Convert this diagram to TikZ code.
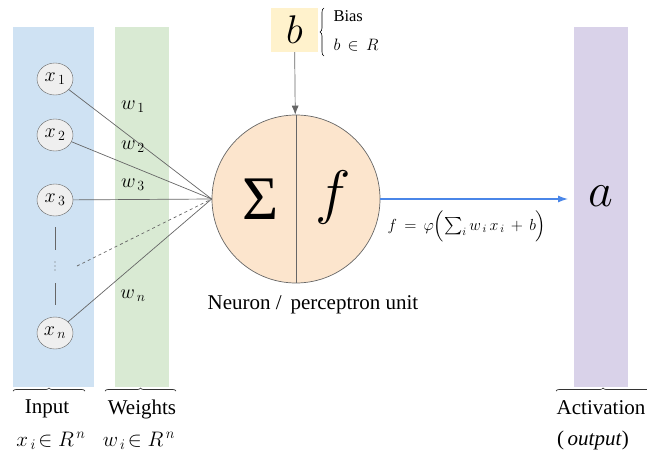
\RequirePackage{fix-cm}
\documentclass[tikz,border=0pt]{standalone}
\usepackage{exscale}
\usepackage{fontspec}
\setmainfont{Liberation Serif}
\usetikzlibrary{arrows.meta,decorations.pathreplacing,shapes.geometric}

\definecolor{inblue}{HTML}{CFE2F3}
\definecolor{wgreen}{HTML}{D9EAD3}
\definecolor{actpurple}{HTML}{D9D2E9}
\definecolor{neuronfill}{HTML}{FCE5CD}
\definecolor{biasfill}{HTML}{FFF2CC}
\definecolor{nodegray}{HTML}{EFEFEF}
\definecolor{edgegray}{HTML}{666666}
\definecolor{outblue}{HTML}{4A86E8}

\newcommand{\fs}[1]{\fontsize{#1}{#1}\selectfont}

\begin{document}
\begin{tikzpicture}[x=1pt,y=-1pt,
  inp/.style={ellipse,draw=edgegray,fill=nodegray,minimum width=36pt,minimum height=32pt,inner sep=0pt,font=\fs{20}},
  wlab/.style={font=\fs{20}},
  lab/.style={font=\fs{21}},
  wire/.style={draw=edgegray,line width=0.7pt},
  labbrace/.style={decorate,decoration={brace,amplitude=3pt},draw=black!80,line width=0.7pt}]
  \useasboundingbox (0,0) rectangle (647,463);
  % the three columns
  \fill[inblue] (13,27) rectangle (94,387);
  \fill[wgreen] (115,27) rectangle (169,387);
  \fill[actpurple] (574,27) rectangle (628,387);
  % bias on top
  \node[fill=biasfill,minimum width=47pt,minimum height=44pt,inner sep=0pt,font=\fs{40}] (bias) at (294.5,30) {$b$};
  \draw[decorate,decoration={brace,amplitude=4pt},line width=0.6pt] (324,56) -- (324,8);
  \node[anchor=west,font=\fs{16.5}] (biasname) at (330,16) {Bias};
  \node[anchor=west,font=\fs{16.5}] (biasset) at (330,45) {$b\,\in\,R$};
  % neuron
  \node[circle,draw=edgegray,fill=neuronfill,minimum size=168pt,line width=0.7pt] (neuron) at (296,199) {};
  \draw[wire] (neuron.north) -- (neuron.south);
  \node[font=\fs{62}] (sigma) at (261,199) {Σ};
  \node[font=\fs{60}] (func) at (333,197) {$f$};
  \node[lab] (neuronname) at (313,305) {Neuron /\, perceptron unit};
  \draw[wire,-{Latex[length=9pt,width=7pt]}] (bias) -- (neuron);
  % inputs
  \node[inp] (x1) at (55,79) {$x_{\,1}$};
  \node[inp] (x2) at (55,135) {$x_{\,2}$};
  \node[inp] (x3) at (55,200) {$x_{\,3}$};
  \node[inp] (xn) at (55,333) {$x_{\,n}$};
  \foreach \dy in {-4,0,4}
    \fill[edgegray] (55,266+\dy) circle (0.6pt);
  \coordinate (xdots) at (77,266);
  \draw[wire] (55,227) -- (55,250);
  \draw[wire] (55,283) -- (55,305);
  % weighted connections
  \draw[wire] (x1) -- (neuron.west);
  \draw[wire] (x2) -- (neuron.west);
  \draw[wire] (x3) -- (neuron.west);
  \draw[wire] (xn) -- (neuron.west);
  \draw[wire,dashed] (xdots) -- (neuron.west);
  \node[wlab] (w1) at (133,107) {$w_{\,1}$};
  \node[wlab] (w2) at (133,147) {$w_{\,2}$};
  \node[wlab] (w3) at (133,185) {$w_{\,3}$};
  \node[wlab] (wn) at (133,296) {$w_{\,n}$};
  % output
  \node[font=\fs{48}] (outa) at (601,196) {$a$};
  \draw[outblue,line width=1.3pt,-{Latex[length=10pt,width=7pt]}] (neuron.east) -- (568,199);
  \node[font=\fs{16}] (formula) at (467,226) {$f\,=\,\varphi\Bigl(\sum_{i}w_{\,i}\,x_{\,i}\,+\,b\Bigr)$};
  % labels below
  \draw[labbrace] (13,391) -- (85,391);
  \draw[labbrace] (105,391) -- (176,391);
  \draw[labbrace] (556,391) -- (650,391);
  \node[lab] (inlab) at (47,409) {Input};
  \node[lab] (wlabel) at (142,409) {Weights};
  \node[lab] (actlab) at (601,408) {Activation};
  \node[lab] (inset) at (51,441) {$x_{\,i}\!\in R^{\,n}$};
  \node[lab] (wset) at (139,441) {$w_{\,i}\!\in R^{\,n}$};
  \node[lab] (outlab) at (593,440) {(\,\textit{output})};
\end{tikzpicture}
\end{document}
